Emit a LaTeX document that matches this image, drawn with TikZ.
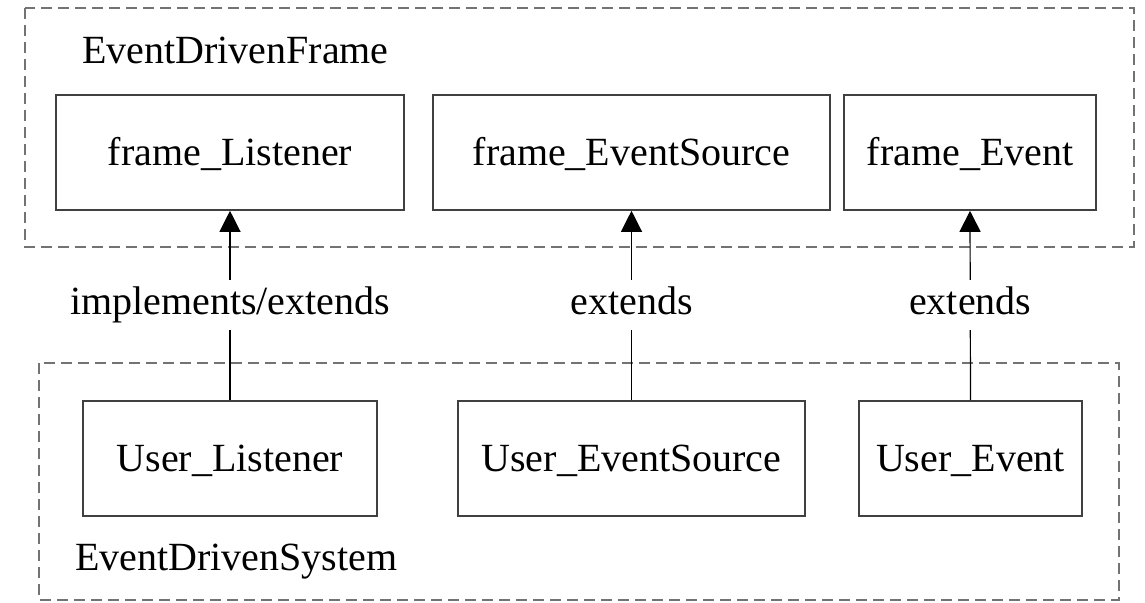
\documentclass[tikz,border=0pt]{standalone}
\usepackage{fontspec}
\setmainfont{Liberation Serif}
\usetikzlibrary{arrows.meta}

\begin{document}
\begin{tikzpicture}[x=0.5pt,y=-0.5pt,every node/.style={font=\fontsize{20}{24}\selectfont},box/.style={draw=black!75,line width=0.8pt,minimum height=57.5pt,text height=13.2pt,text depth=0pt,inner sep=0pt},group/.style={draw=black!55,line width=1pt,dash pattern=on 5.5pt off 3pt},rel/.style={fill=white,inner sep=3.5pt,text height=13.66pt,text depth=4.34pt}]
\useasboundingbox (0,0) rectangle (1145,603);
% framework side
\draw[group] (25,8) rectangle (1134,247);
\node[anchor=base west] (frame) at (75,64) {EventDrivenFrame};
\node[box,minimum width=174pt] (fl) at (230,152.5) {frame\_Listener};
\node[box,minimum width=198.5pt] (fes) at (631.5,152.5) {frame\_EventSource};
\node[box,minimum width=126pt] (fe) at (970,152.5) {frame\_Event};
% user side
\draw[group] (39,363) rectangle (1119,600);
\node[anchor=base west] (system) at (68,570) {EventDrivenSystem};
\node[box,minimum width=147pt] (ul) at (230,458.5) {User\_Listener};
\node[box,minimum width=173.5pt] (ues) at (631.5,458.5) {User\_EventSource};
\node[box,minimum width=111.5pt] (ue) at (970.5,458.5) {User\_Event};
% relations
\draw[-{Triangle[width=10.5pt,length=10.5pt]},line width=0.6pt] (ul.north) -- node[rel] {implements/extends} (fl.south);
\draw[-{Triangle[width=10.5pt,length=10.5pt]},line width=0.6pt] (ues.north) -- node[rel] {extends} (fes.south);
\draw[-{Triangle[width=10.5pt,length=10.5pt]},line width=0.6pt] (ue.north) -- node[rel] {extends} (fe.south);
\end{tikzpicture}
\end{document}
